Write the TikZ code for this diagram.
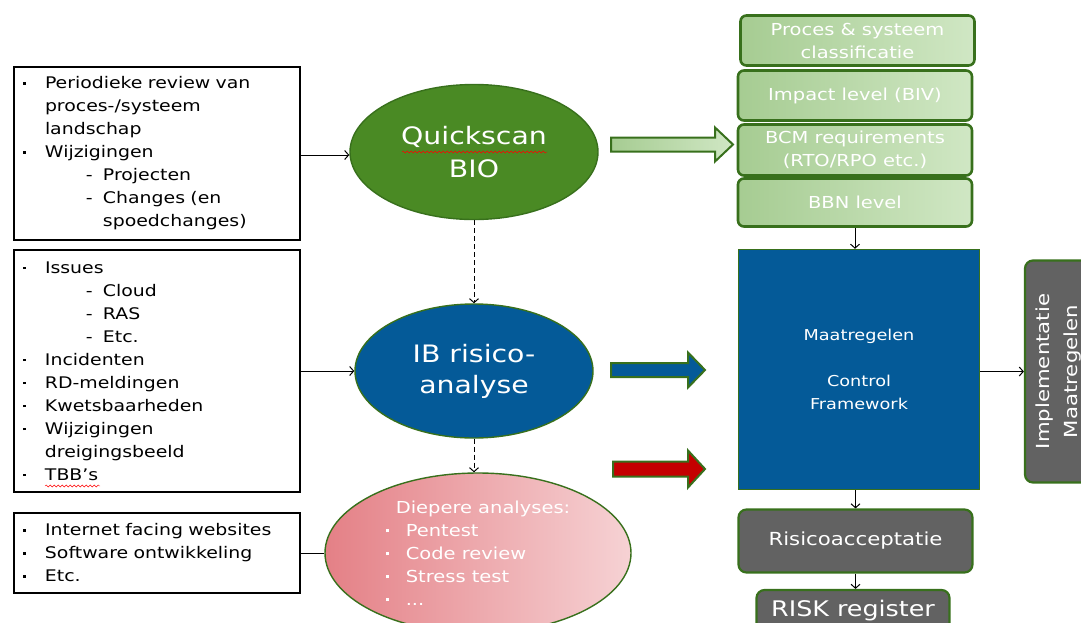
\documentclass[tikz,border=0pt]{standalone}
\usepackage{fontspec}
\setmainfont[FakeStretch=1.18]{DejaVu Sans}
\usetikzlibrary{shapes.geometric,decorations.pathmorphing,arrows.meta}

\definecolor{bordergreen}{RGB}{56,112,28}
\definecolor{qsgreen}{RGB}{74,138,36}
\definecolor{ibblue}{RGB}{4,90,152}
\definecolor{boxgrey}{RGB}{98,98,98}
\definecolor{lightgreenA}{RGB}{166,204,146}
\definecolor{lightgreenB}{RGB}{208,231,196}
\definecolor{pinkA}{RGB}{228,128,134}
\definecolor{pinkB}{RGB}{246,210,212}
\definecolor{arrowred}{RGB}{196,0,0}

% list markers
\newcommand{\blt}{\makebox[22pt][l]{\rule[4pt]{2.6pt}{2.6pt}}}
\newcommand{\ebl}{\makebox[20pt][l]{\rule[4pt]{3pt}{3pt}}}
\newcommand{\ind}{\hspace{22pt}}
\newcommand{\dsh}{\hspace{63pt}\makebox[17pt][l]{-}}
\newcommand{\dind}{\hspace{80pt}}

\tikzset{
  listbox/.style={draw, line width=1.4pt, rectangle, inner xsep=9pt, inner ysep=0pt,
    text width=268pt, align=left, font=\fontsize{16}{23}\selectfont},
  bigellipse/.style={ellipse, draw=bordergreen, line width=1.4pt, inner sep=0pt,
    text=white},
  stackbox/.style={draw=bordergreen, line width=2.6pt, rounded corners=6pt,
    left color=lightgreenA, right color=lightgreenB, text=white, align=center,
    minimum width=234pt, font=\fontsize{16.5}{23}\selectfont},
  greybox/.style={draw=bordergreen, line width=2.2pt, rounded corners=8pt,
    fill=boxgrey, text=white, align=center},
  blockarrow/.style={draw=bordergreen, line width=2pt, line join=miter},
  conn/.style={-{Straight Barb[length=4pt,width=9pt]}, line width=1pt},
  dconn/.style={conn, dash pattern=on 5pt off 3pt},
  squiggle/.style={red, thin, decorate,
    decoration={snake, amplitude=1pt, segment length=4pt}}
}

\begin{document}
\begin{tikzpicture}[x=1pt,y=-1pt]
  \clip (0,0) rectangle (1081,622);
  \useasboundingbox (0,0) rectangle (1081,622);

  % input lists
  \node[listbox, minimum height=173pt] (box1) at (157,153.5) {%
    \blt Periodieke review van\\
    \ind proces-/systeem\\
    \ind landschap\\
    \blt Wijzigingen\\
    \dsh Projecten\\
    \dsh Changes (en\\
    \dind spoedchanges)};
  \node[listbox, minimum height=242pt] (box2) at (157,371) {%
    \blt Issues\\
    \dsh Cloud\\
    \dsh RAS\\
    \dsh Etc.\\
    \blt Incidenten\\
    \blt RD-meldingen\\
    \blt Kwetsbaarheden\\
    \blt Wijzigingen\\
    \ind dreigingsbeeld\\
    \blt TBB's};
  \node[listbox, minimum height=80pt] (box3) at (157,553) {%
    \blt Internet facing websites\\
    \blt Software ontwikkeling\\
    \blt Etc.};

  % middle column
  \node[bigellipse, fill=qsgreen, minimum width=248pt, minimum height=135pt,
    align=center, font=\fontsize{24}{33}\selectfont] (quick) at (474,152)
    {Quickscan\\BIO};
  \node[bigellipse, fill=ibblue, minimum width=238pt, minimum height=134pt,
    align=center, font=\fontsize{24}{31}\selectfont] (ib) at (474,371)
    {IB risico-\\analyse};
  \node[bigellipse, left color=pinkA, right color=pinkB,
    minimum width=306pt, minimum height=160pt, align=left,
    font=\fontsize{16.5}{23}\selectfont] (diep) at (478,553)
    {\hspace{10pt}Diepere analyses:\\
     \ebl Pentest\\
     \ebl Code review\\
     \ebl Stress test\\
     \ebl ...};

  % spelling marks
  \draw[squiggle] (402,152) -- (547,152);
  \draw[squiggle] (45,486) -- (100,486);

  \draw[conn] (box1.east |- 0,155) -- (quick.west |- 0,155);
  \draw[conn] (box2) -- (ib);
  \draw[line width=1pt] (box3.east) -- (diep.west |- box3.east);
  \draw[dconn] (quick.south) -- (ib.north);
  \draw[dconn] (ib.south) -- (ib.south |- diep.north);

  % block arrows
  \coordinate (qa) at (611,144.5);
  \coordinate (ia) at (611,370);
  \coordinate (da) at (613,469);
  \draw[blockarrow, left color=lightgreenA, right color=lightgreenB]
    (qa) ++(0,-7) -- ++(104,0) -- ++(0,-10) -- ++(18,17) -- ++(-18,17)
    -- ++(0,-10) -- ++(-104,0) -- cycle;
  \draw[blockarrow, fill=ibblue]
    (ia) ++(0,-7) -- ++(77,0) -- ++(0,-10.5) -- ++(17,17.5) -- ++(-17,17.5)
    -- ++(0,-10.5) -- ++(-77,0) -- cycle;
  \draw[blockarrow, fill=arrowred]
    (da) ++(0,-7.5) -- ++(75,0) -- ++(0,-11) -- ++(17,18.5) -- ++(-17,18.5)
    -- ++(0,-11) -- ++(-75,0) -- cycle;

  % right column
  \node[stackbox, minimum height=50pt] (proc) at (857.5,40.5)
    {Proces \& systeem\\classificatie};
  \node[stackbox, minimum height=50pt] (impact) at (855,95.5)
    {Impact level (BIV)};
  \node[stackbox, minimum height=51pt] (bcm) at (855,150)
    {BCM requirements\\(RTO/RPO etc.)};
  \node[stackbox, minimum height=48pt] (bbn) at (855,202.5) {BBN level};

  \node[draw=bordergreen, line width=1.4pt, fill=ibblue, text=white,
    minimum width=241pt, minimum height=240pt, align=center,
    font=\fontsize{15}{23}\selectfont] (maat) at (859,369.5)
    {Maatregelen\\[23pt]Control\\Framework};

  \node[greybox, minimum width=222pt, minimum height=68pt, rotate=90,
    font=\fontsize{18}{28}\selectfont] (impl) at (1059,371.5)
    {Implementatie\\Maatregelen};
  \node[greybox, minimum width=234pt, minimum height=63pt,
    font=\fontsize{18}{23}\selectfont] (acc) at (855.5,541) {Risicoacceptatie};
  \node[greybox, minimum width=193pt, minimum height=42pt,
    font=\fontsize{21.5}{23}\selectfont] (reg) at (853,611) {RISK register};

  \draw[conn] (bbn.south) -- (bbn.south |- maat.north);
  \draw[conn] (maat.east |- impl.north) -- (impl.north);
  \draw[conn] (maat.south -| acc.north) -- (acc.north);
  \draw[conn] (acc.south) -- (acc.south |- reg.north);
\end{tikzpicture}
\end{document}
